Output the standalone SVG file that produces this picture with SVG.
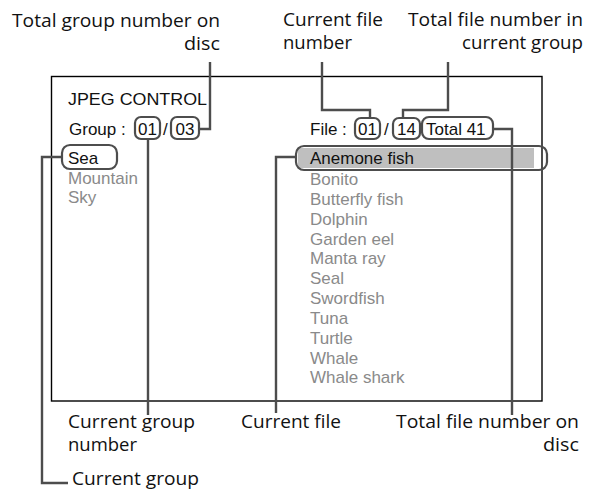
<svg xmlns="http://www.w3.org/2000/svg" width="596" height="492" viewBox="0 0 596 492">
<style>
.lbl{font-family:"Open Sans",Lato,"Liberation Sans",sans-serif;font-size:17.5px;fill:#111}
.scr{font-family:"Liberation Sans",Arial,sans-serif;font-size:17px;fill:#111}
.dim{fill:#8a8a8a}
.box{fill:none;stroke:#4d4d4d;stroke-width:2.2}
.ld{fill:none;stroke:#4d4d4d;stroke-width:2.4}
</style>
<rect width="596" height="492" fill="#fff"/>
<g id="screen">
<rect x="51.5" y="76.5" width="490.5" height="324.5" fill="none" stroke="#000" stroke-width="1.4"/>
<text class="scr" x="68" y="105" textLength="139" lengthAdjust="spacingAndGlyphs">JPEG CONTROL</text>
<text class="scr" x="69" y="135">Group :</text>
<text class="scr" x="163" y="135">/</text>
<text class="scr" x="310" y="135">File :</text>
<text class="scr" x="384" y="135">/</text>
</g>
<g id="group-number">
<rect class="box" x="135" y="117" width="25" height="22" rx="6"/>
<text class="scr" x="147.5" y="135" text-anchor="middle">01</text>
</g>
<g id="group-total">
<rect class="box" x="171" y="117" width="28" height="22" rx="6"/>
<text class="scr" x="185" y="135" text-anchor="middle">03</text>
</g>
<g id="group-list">
<rect class="box" x="62" y="145" width="55" height="24" rx="8"/>
<text class="scr" x="68" y="164">Sea</text>
<text class="scr dim" x="68" y="184">Mountain</text>
<text class="scr dim" x="68" y="203">Sky</text>
</g>
<g id="file-number">
<rect class="box" x="355" y="118" width="25" height="21" rx="6"/>
<text class="scr" x="367.5" y="135" text-anchor="middle">01</text>
</g>
<g id="file-group-total">
<rect class="box" x="393" y="118" width="27" height="21" rx="6"/>
<text class="scr" x="406.5" y="135" text-anchor="middle">14</text>
</g>
<g id="file-disc-total">
<rect class="box" x="422" y="117" width="71" height="22" rx="7"/>
<text class="scr" x="426" y="135">Total 41</text>
</g>
<g id="file-list">
<rect x="298" y="148" width="236" height="20" fill="#bfbfbf"/>
<rect class="box" x="296" y="146" width="251" height="24" rx="8"/>
<text class="scr" x="310" y="164">Anemone fish</text>
<text class="scr dim" x="310" y="185">Bonito</text>
<text class="scr dim" x="310" y="205">Butterfly fish</text>
<text class="scr dim" x="310" y="225">Dolphin</text>
<text class="scr dim" x="310" y="245">Garden eel</text>
<text class="scr dim" x="310" y="264">Manta ray</text>
<text class="scr dim" x="310" y="284">Seal</text>
<text class="scr dim" x="310" y="304">Swordfish</text>
<text class="scr dim" x="310" y="324">Tuna</text>
<text class="scr dim" x="310" y="344">Turtle</text>
<text class="scr dim" x="310" y="364">Whale</text>
<text class="scr dim" x="310" y="383">Whale shark</text>
</g>
<g id="connectors">
<path class="ld" d="M210,62 V129 H199"/>
<path class="ld" d="M322,62 V110 H370 V118"/>
<path class="ld" d="M448,62 V110 H403 V118"/>
<path class="ld" d="M493,129 H512 V415"/>
<path class="ld" d="M296,157 H276 V413"/>
<path class="ld" d="M148,139 V415"/>
<path class="ld" d="M62,157 H42 V483 H68"/>
</g>
<g id="labels">
<text class="lbl" x="12" y="27" textLength="208" lengthAdjust="spacingAndGlyphs">Total group number on</text>
<text class="lbl" x="184" y="50" textLength="36" lengthAdjust="spacingAndGlyphs">disc</text>
<text class="lbl" x="283" y="26" textLength="100" lengthAdjust="spacingAndGlyphs">Current file</text>
<text class="lbl" x="283" y="49" textLength="69" lengthAdjust="spacingAndGlyphs">number</text>
<text class="lbl" x="408" y="26" textLength="175" lengthAdjust="spacingAndGlyphs">Total file number in</text>
<text class="lbl" x="462" y="49" textLength="121" lengthAdjust="spacingAndGlyphs">current group</text>
<text class="lbl" x="68" y="428" textLength="127" lengthAdjust="spacingAndGlyphs">Current group</text>
<text class="lbl" x="68" y="451" textLength="69" lengthAdjust="spacingAndGlyphs">number</text>
<text class="lbl" x="241" y="428" textLength="100" lengthAdjust="spacingAndGlyphs">Current file</text>
<text class="lbl" x="396" y="428" textLength="183" lengthAdjust="spacingAndGlyphs">Total file number on</text>
<text class="lbl" x="543" y="451" textLength="36" lengthAdjust="spacingAndGlyphs">disc</text>
<text class="lbl" x="72" y="485" textLength="127" lengthAdjust="spacingAndGlyphs">Current group</text>
</g>
</svg>
